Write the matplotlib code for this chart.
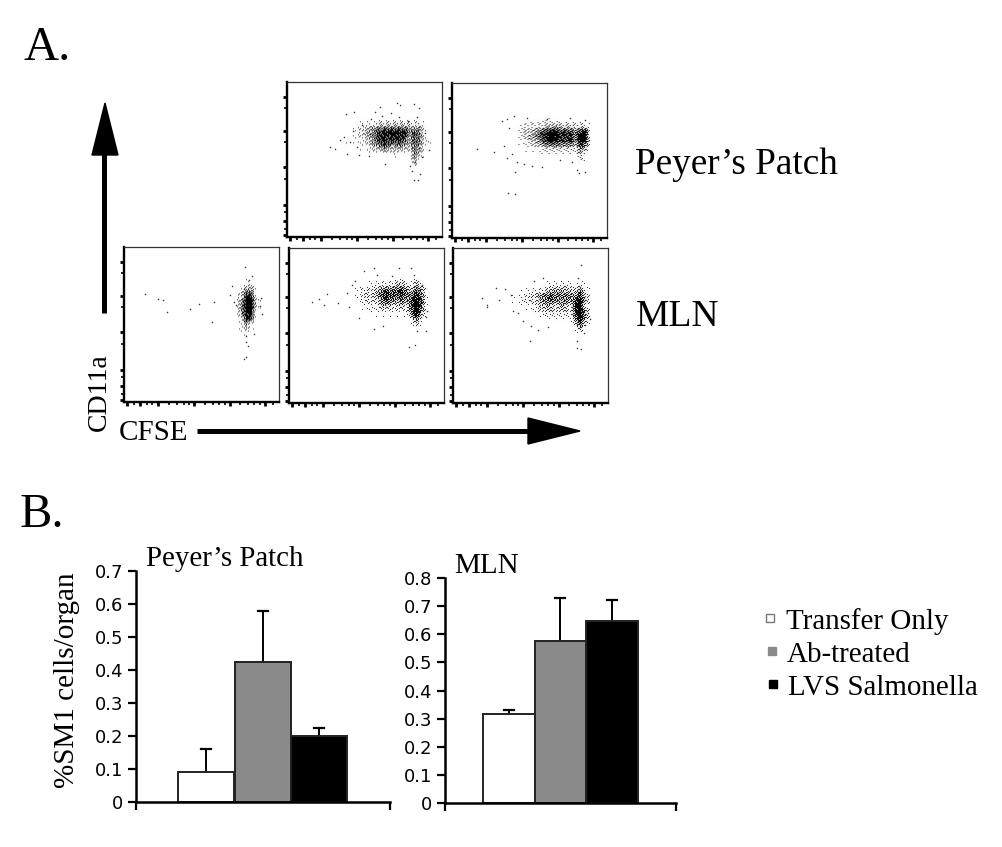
import numpy as np
import matplotlib
matplotlib.use('Agg')
from matplotlib import pyplot as plt
from matplotlib.patches import Polygon

plt.rcParams['font.family'] = ['Liberation Serif', 'DejaVu Serif']

# flow panels: density in 5 unit cells, digit 0-9 = how black the cell looks
# rows run top to bottom (127.5 .. 62.5), columns left to right (42.5 .. 147.5)
grid_x = [42.5 + 5 * i for i in range(22)]
grid_y = [127.5 - 5 * i for i in range(14)]

dens_top_mid = [
	"0000000000000000000000",
	"0000000000000000000000",
	"0000000100111111110100",
	"0000001122333333323100",
	"0000012345677777555200",
	"0000012356889989586200",
	"0000112246887887476310",
	"0001111235787675475210",
	"0001001123454343365100",
	"0000000011111211163100",
	"0000000000000000051000",
	"0000000000000000031000",
	"0000000000000000000000",
	"0000000000000000000000",
]
dens_top_right = [
	"0000000000000000000000",
	"0000000000000000000000",
	"0000001111221111111000",
	"0000012222334333222100",
	"0000123346788777578100",
	"0000123457899888699100",
	"0000012346898878598100",
	"0000011233556555386100",
	"0000001111222222153000",
	"0000000001111111131000",
	"0000000000000000021000",
	"0000000000000000000000",
	"0000000000000000000000",
	"0000000000000000000000",
]
dens_bot_left = [
	"0000000000000000000000",
	"0000000000000000100000",
	"0000000000000000220000",
	"0000000000000001441000",
	"0000000000000013771000",
	"0000000000000014992100",
	"0000000000000015993100",
	"0000000000000015992000",
	"0000000000000014981000",
	"0000000000000003871000",
	"0000000000000001510000",
	"0000000000000001310000",
	"0000000000000001200000",
	"0000000000000000100000",
]
dens_bot_mid = [
	"0000000000000000100000",
	"0000000111111221131000",
	"0000011122333453253100",
	"0000012334676786475100",
	"0000012334787786686100",
	"0000012333676565797200",
	"0000001222454353797100",
	"0000001121222222696100",
	"0000000011111111594000",
	"0000000000100000252000",
	"0000000000000000131000",
	"0000000000000000000000",
	"0000000000000000000000",
	"0000000000000000000000",
]
dens_bot_right = [
	"0000000000000000000000",
	"0000000000011111011000",
	"0000000001122232131000",
	"0000011122345544363100",
	"0001112335676666583100",
	"0001122335676565795100",
	"0000011224543543892100",
	"0000001123343342895100",
	"0000000011222221795000",
	"0000000000111111594000",
	"0000000000000000372000",
	"0000000000000000131000",
	"0000000000000000000000",
	"0000000000000000000000",
]

# single events away from the dense part (x, y in panel units)
dots_top_mid = [(43,90),(48,88),(53,97),(59,123),(67,125),(88,125),(93,130),(110,134),(113,132),(127,133),
	(132,129),(98,73),(123,71),(133,63),(127,57),(131,57),(142,87),(135,80),(60,83),(72,82),(82,81),(79,1),
	(57,100),(63,95),(66,106),(70,90),(75,112),(84,118),(95,121),(104,124),(112,120),(121,116),(128,75),
	(130,120),(138,104),(125,66)]
dots_top_right = [(25,89),(42,86),(63,66),(56,45),(63,44),(127,65),(125,68),(133,66),(50,117),(55,119),
	(52,92),(55,80),(60,84),(65,76),(72,74),(80,72),(90,71),(108,78),(120,76),
	(57,110),(62,122),(75,120),(95,119),(118,120),(133,118),(137,98)]
dots_bot_left = [(21,108),(34,103),(39,102),(43,90),(66,93),(75,98),(90,100),(88,80),(106,107),(112,97),
	(108,116),(120,113),(121,135),(125,122),(128,126),(136,96),(138,88),(110,100),(118,103),(137,104),
	(122,60),(124,56),(122,45),(120,43),(122,66),(130,68)]
dots_bot_mid = [(23,101),(30,104),(35,98),(38,109),(49,100),(58,110),(60,96),(63,118),(66,122),(75,132),
	(85,135),(88,128),(103,127),(110,135),(122,135),(125,128),(133,118),(138,92),(137,86),(120,56),
	(126,58),(128,72),(137,72),(85,74),(94,77),(70,85)]
dots_bot_right = [(29,105),(34,98),(34,96),(43,115),(46,103),(52,114),(58,108),(60,92),(65,90),(70,82),
	(78,77),(77,62),(85,73),(81,122),(90,125),(128,138),(125,125),(135,90),(137,84),
	(132,78),(124,55),(128,54),(124,62),(131,70),(95,76)]

panels = [
	(286.7, 82.3, dens_top_mid, dots_top_mid),
	(451.7, 83.3, dens_top_right, dots_top_right),
	(124.0, 247.3, dens_bot_left, dots_bot_left),
	(289.0, 248.3, dens_bot_mid, dots_bot_mid),
	(453.3, 248.3, dens_bot_right, dots_bot_right),
]
flow_size = 155

# halftone thresholds: turns the density cells into a stippled look like the dot plots
stipple = np.array([
	[31, 7, 44, 18, 25, 2, 38],
	[12, 48, 5, 35, 41, 21, 9],
	[27, 16, 39, 1, 14, 46, 33],
	[43, 3, 23, 30, 49, 8, 19],
	[10, 36, 47, 13, 26, 40, 4],
	[29, 20, 6, 42, 17, 34, 22],
	[45, 24, 37, 11, 32, 15, 28],
]) / 50.

# log style axis ticks of the cytometer software
flow_x_major = [3, 16, 34, 70, 106, 141]
flow_x_minor = [10, 23, 28, 45, 53, 60, 65, 81, 89, 95, 101, 116, 124, 130, 136, 149]
flow_y_major = [2, 16, 32, 70, 106, 140]
flow_y_minor = [8, 25, 58, 95, 129]

# bar charts
groups = ['Transfer Only', 'Ab-treated', 'LVS Salmonella']
bar_colors = ['white', '#8a8a8a', 'black']
pp_values = [0.09, 0.425, 0.20]
pp_tops = [0.16, 0.58, 0.225]
mln_values = [0.318, 0.575, 0.648]
mln_tops = [0.332, 0.73, 0.722]
pp_ticks = [0, 0.1, 0.2, 0.3, 0.4, 0.5, 0.6, 0.7]
mln_ticks = [0, 0.1, 0.2, 0.3, 0.4, 0.5, 0.6, 0.7, 0.8]

W, H = 1003, 847
fig = plt.figure(figsize=(W / 100., H / 100.), dpi=100, facecolor='white')


def px_axes(x0, y0, x1, y1):
	return fig.add_axes([x0 / W, 1 - y1 / H, (x1 - x0) / W, (y1 - y0) / H])


def stippled(rows):
	dens = np.array([[int(c) for c in r] for r in rows]) / 9.
	centers = np.arange(flow_size) + 0.5
	by_col = np.array([np.interp(centers, grid_x, r, left=0, right=0) for r in dens])
	# grid_y is descending, np.interp wants it ascending; result row 0 = bottom of panel
	up = np.array([np.interp(centers, grid_y[::-1], c[::-1], left=0, right=0) for c in by_col.T]).T
	up = up ** 1.4
	reps = flow_size // stipple.shape[0] + 1
	thresh = np.tile(stipple, (reps, reps))[:flow_size, :flow_size]
	return 0.75 * (up > thresh) + 0.25 * up


def draw_flow(x0, y0, rows, dots):
	ax = px_axes(x0, y0, x0 + flow_size, y0 + flow_size)
	ax.imshow(stippled(rows), cmap='gray_r', vmin=0, vmax=1, extent=[0, flow_size, 0, flow_size],
		origin='lower', interpolation='bilinear', aspect='auto')
	xs, ys = zip(*dots)
	ax.scatter(xs, ys, s=1.2, color='#333333', linewidths=0)
	ax.set_xlim(0, flow_size)
	ax.set_ylim(0, flow_size)
	ax.set_xticks(flow_x_major)
	ax.set_yticks(flow_y_major)
	ax.set_xticks(flow_x_minor, minor=True)
	ax.set_yticks(flow_y_minor, minor=True)
	ax.tick_params(which='major', length=3, width=2.0, labelbottom=False, labelleft=False, color='black')
	ax.tick_params(which='minor', length=2.2, width=1.2, color='black')
	for side in ['top', 'right']:
		ax.spines[side].set_linewidth(0.9)
		ax.spines[side].set_color('#333333')
	for side in ['left', 'bottom']:
		ax.spines[side].set_linewidth(1.7)


def draw_bars(x0, x1, y_top, y_zero, ymax, ticks, left_edges, width, values, tops):
	ax = px_axes(x0, y_top, x1, y_zero)
	xs = [e + width / 2. for e in left_edges]
	ax.bar(xs, values, width=width, color=bar_colors, edgecolor='#222222', linewidth=1.4, zorder=2)
	for x, v, t in zip(xs, values, tops):
		ax.plot([x, x], [v, t], color='black', lw=1.4, zorder=1)
		ax.plot([x - 5, x + 5], [t, t], color='black', lw=1.6, zorder=1)
	ax.set_xlim(x0, x1)
	ax.set_ylim(0, ymax)
	ax.set_yticks(ticks)
	ax.set_yticklabels(['0' if t == 0 else '%.1f' % t for t in ticks], family='DejaVu Sans', fontsize=13)
	ax.set_xticks([x0, x1])
	ax.set_xticklabels([])
	ax.tick_params(axis='y', length=5.5, width=1.6, pad=3.5)
	ax.tick_params(axis='x', length=6, width=1.6)
	ax.spines['top'].set_visible(False)
	ax.spines['right'].set_visible(False)
	ax.spines['left'].set_linewidth(1.8)
	ax.spines['bottom'].set_linewidth(1.8)
	ax.patch.set_alpha(0)
	return ax


for x0, y0, rows, dots in panels:
	draw_flow(x0, y0, rows, dots)

draw_bars(136, 390, 571, 802, 0.7, pp_ticks, [178, 235, 291], 56.5, pp_values, pp_tops)
draw_bars(445, 676, 578, 803, 0.8, mln_ticks, [483, 534.5, 586], 51.7, mln_values, mln_tops)

# overlay in pixel coordinates for the labels and arrows
top = fig.add_axes([0, 0, 1, 1], zorder=5)
top.set_xlim(0, W)
top.set_ylim(H, 0)
top.axis('off')
top.patch.set_alpha(0)

top.add_patch(Polygon([(92, 155), (118, 155), (105, 103)], closed=True, color='black'))
top.plot([104.5, 104.5], [150, 313], color='black', lw=3.6, solid_capstyle='butt')
top.add_patch(Polygon([(528, 418), (528, 444), (580, 431)], closed=True, color='black'))
top.plot([197, 532], [431, 431], color='black', lw=3.6, solid_capstyle='butt')

top.text(24, 60, 'A.', fontsize=35, va='baseline')
top.text(20, 527, 'B.', fontsize=35, va='baseline')
top.text(635, 174, 'Peyer\u2019s Patch', fontsize=26.8, va='baseline')
top.text(636, 326, 'MLN', fontsize=27, va='baseline')
top.text(119, 440, 'CFSE', fontsize=21, va='baseline')
top.text(112, 431, 'CD11a', fontsize=20, rotation=90, ha='right', va='bottom')
top.text(80, 788, '%SM1 cells/organ', fontsize=21, rotation=90, ha='right', va='bottom')
top.text(146, 566, 'Peyer\u2019s Patch', fontsize=20.8, va='baseline')
top.text(454, 573, 'MLN', fontsize=21, va='baseline')

legend_y = [620, 653, 686]
marker_x = [770, 772, 773]
text_x = [786, 787, 788]
for name, col, y, mx, tx in zip(groups, bar_colors, legend_y, marker_x, text_x):
	top.plot([mx], [y - 2], marker='s', ms=6, mfc=col, mec='#777777' if col == 'white' else col, mew=1)
	top.text(tx, y + 9, name, fontsize=20.9, va='baseline')

fig.savefig('out.png', dpi=100, facecolor='white')
